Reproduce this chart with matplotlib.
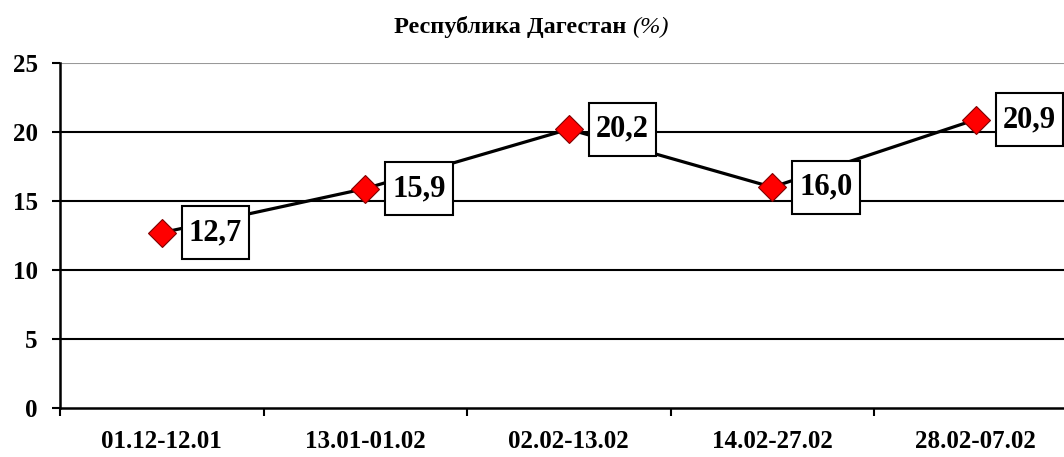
import matplotlib
matplotlib.use("Agg")
import matplotlib.pyplot as plt
from matplotlib.ticker import FixedLocator
from matplotlib.path import Path

categories = ["01.12-12.01", "13.01-01.02", "02.02-13.02", "14.02-27.02", "28.02-07.02"]
values = [12.7, 15.9, 20.2, 16.0, 20.9]
value_labels = ["12,7", "15,9", "20,2", "16,0", "20,9"]
yticks = [0, 5, 10, 15, 20, 25]

plt.rcParams['font.family'] = ['Liberation Serif', 'DejaVu Serif']


def label_box(x0, y0, width, height, mutation_size):
    px = 0.23 * mutation_size
    py = 0.39 * mutation_size
    x0, y0 = x0 - px, y0 - py
    x1, y1 = x0 + width + 2 * px, y0 + height + 2 * py
    return Path([(x0, y0), (x1, y0), (x1, y1), (x0, y1), (x0, y0)], closed=True)


fig = plt.figure(figsize=(10.64, 4.57), dpi=100)
ax = fig.add_axes([60/1064, 49/457, 1017.5/1064, 345/457])

x = list(range(len(categories)))
ax.set_xlim(-0.5, len(categories) - 0.5)
ax.set_ylim(0, 25)

for yv in yticks[1:]:
    ax.axhline(yv, color='#999999' if yv == 25 else 'black', lw=1.5, zorder=1)

ax.plot(x, values, color='black', lw=2.3, zorder=2)
ax.plot(x, values, ls='none', marker='D', markersize=14, markerfacecolor='#FF0000',
        markeredgecolor='#7f0000', markeredgewidth=0.8, zorder=3)

for xi, v, lab in zip(x, values, value_labels):
    ax.annotate(lab, (xi, v), xytext=(27, 0), textcoords='offset pixels',
                ha='left', va='center', fontsize=22, fontweight='bold',
                bbox=dict(boxstyle=label_box, fc='white', ec='black', lw=1.5),
                zorder=4, annotation_clip=False)

for s in ['top', 'right']:
    ax.spines[s].set_visible(False)
ax.spines['left'].set_linewidth(1.8)
ax.spines['bottom'].set_linewidth(1.8)
ax.spines['left'].set_zorder(5)
ax.spines['bottom'].set_zorder(5)

ax.set_yticks(yticks)
ax.set_yticklabels([str(t) for t in yticks], fontsize=18, fontweight='bold')
ax.set_xticks(x)
ax.set_xticklabels(categories, fontsize=18, fontweight='bold')
ax.xaxis.set_minor_locator(FixedLocator([i - 0.5 for i in range(len(categories) + 1)]))
ax.tick_params(axis='x', which='major', length=0, pad=16)
ax.tick_params(axis='x', which='minor', length=6, width=1.5, direction='out')
ax.tick_params(axis='y', length=6, width=1.5, direction='out', pad=10)

fig.text(0.594, 0.941, "Республика Дагестан ", ha='right', va='center', fontsize=17.5,
         fontweight='bold')
fig.text(0.594, 0.941, "(%)", ha='left', va='center', fontsize=17.5, fontstyle='italic')

fig.savefig("out.png", dpi=100)
